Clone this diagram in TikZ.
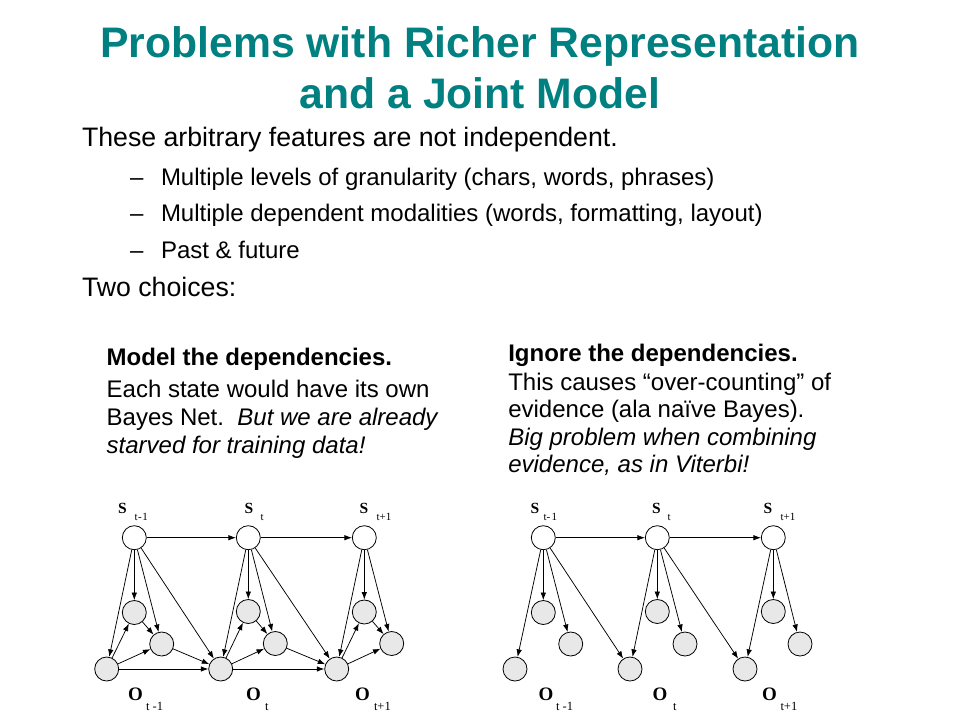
\documentclass[tikz,border=0pt]{standalone}
\usepackage{fontspec}
\setmainfont{Liberation Sans}
\newfontfamily\timesf{Liberation Serif}
\usetikzlibrary{arrows.meta}
\definecolor{titleteal}{RGB}{0,128,128}
\definecolor{obsgray}{RGB}{232,232,232}
\begin{document}
\begin{tikzpicture}[x=1pt,y=-1pt,
  txt/.style={anchor=base west, inner sep=0pt, outer sep=0pt},
  ttl/.style={anchor=base, inner sep=0pt, text=titleteal, font={\fontsize{42.7}{50}\selectfont\bfseries}},
  main/.style={txt, font={\fontsize{26.7}{32}\selectfont}},
  sub/.style={txt, font={\fontsize{24}{28}\selectfont}},
  box/.style={txt, font={\fontsize{24}{28}\selectfont}},
  st/.style={circle, draw=black, line width=0.8pt, fill=white, minimum size=24pt, inner sep=0pt},
  ob/.style={st, fill=obsgray},
  arr/.style={-{Latex[length=7.5pt,width=5.5pt]}, line width=0.75pt},
  slab/.style={txt, font={\timesf\bfseries\fontsize{15.5}{16}\selectfont}},
  ssub/.style={txt, font={\timesf\fontsize{11}{12}\selectfont}},
  olab/.style={txt, font={\timesf\bfseries\fontsize{19}{20}\selectfont}},
  osub/.style={txt, font={\timesf\fontsize{12.5}{13}\selectfont}}
]
\useasboundingbox[fill=white] (0,0) rectangle (960,720);

% ---------- title ----------
\node[ttl] (title1) at (480,57.7) {Problems with Richer Representation};
\node[ttl] (title2) at (480,108.3) {and a Joint Model};

% ---------- bullets ----------
\node[main] (l1) at (82,146.7) {These arbitrary features are not independent.};
\node[sub] (d1) at (130,185) {–};
\node[sub] (b1) at (161,185) {Multiple levels of granularity (chars, words, phrases)};
\node[sub] (d2) at (130,221.7) {–};
\node[sub] (b2) at (161,221.7) {Multiple dependent modalities (words, formatting, layout)};
\node[sub] (d3) at (130,258.3) {–};
\node[sub] (b3) at (161,258.3) {Past \& future};
\node[main] (l2) at (82,296.7) {Two choices:};

% ---------- left text box ----------
\node[box] (m1) at (106.7,365.7) {\bfseries Model the dependencies.};
\node[box] (m2) at (106.7,397.2) {Each state would have its own};
\node[box] (m3) at (106.7,425.5) {Bayes Net.\ \ \itshape But we are already};
\node[box] (m4) at (106.7,453.3) {\itshape starved for training data!};

% ---------- right text box ----------
\node[box] (r1) at (508.3,361.7) {\bfseries Ignore the dependencies.};
\node[box] (r2) at (508.3,390) {This causes “over-counting” of};
\node[box] (r3) at (508.3,417.7) {evidence (ala naïve Bayes).};
\node[box] (r4) at (508.3,445) {\itshape Big problem when combining};
\node[box] (r5) at (508.3,472.3) {\itshape evidence, as in Viterbi!};

% ---------- left network ----------
\node[st] (LS1) at (134.3,537.7) {};
\node[st] (LS2) at (248.3,537.7) {};
\node[st] (LS3) at (364.3,537.7) {};
\node[ob] (LA1) at (134.3,612.5) {};
\node[ob] (LA2) at (248.3,611.5) {};
\node[ob] (LA3) at (364.3,612) {};
\node[ob] (LB1) at (161.7,644) {};
\node[ob] (LB2) at (275.3,643.5) {};
\node[ob] (LB3) at (391.7,643.5) {};
\node[ob] (LC1) at (106.7,669) {};
\node[ob] (LC2) at (220.7,669) {};
\node[ob] (LC3) at (336.7,669) {};

\draw[arr] (LS1) -- (LS2);
\draw[arr] (LS2) -- (LS3);
\foreach \i in {1,2,3}{
  \draw[arr] (LS\i) -- (LA\i);
  \draw[arr] (LS\i) -- (LB\i);
  \draw[arr] (LS\i) -- (LC\i);
  \draw[arr] (LC\i) -- (LA\i);
  \draw[arr] (LC\i) -- (LB\i);
  \draw[arr] (LA\i) -- (LB\i);
}
\draw[arr] (LS1) -- (LC2);
\draw[arr] (LS2) -- (LC3);
\draw[arr] (LB1) -- (LC2);
\draw[arr] (LB2) -- (LC3);
\draw[arr] (LC1) -- (LC2);
\draw[arr] (LC2) -- (LC3);

\node[slab] (lsS1) at (118,513) {S};
\node[ssub] (lsS1s) at (134.5,520) {t\kern0.6pt-\kern0.6pt1};
\node[slab] (lsS2) at (244.5,513) {S};
\node[ssub] (lsS2s) at (260.5,520) {t};
\node[slab] (lsS3) at (359.5,513) {S};
\node[ssub] (lsS3s) at (376.5,520) {t+1};
\node[olab] (loO1) at (128,700) {O};
\node[osub] (loO1s) at (146,710.5) {t -1};
\node[olab] (loO2) at (246,700) {O};
\node[osub] (loO2s) at (265,710.5) {t};
\node[olab] (loO3) at (355,700) {O};
\node[osub] (loO3s) at (374,710.5) {t+1};

% ---------- right network ----------
\node[st] (RS1) at (543.3,537.7) {};
\node[st] (RS2) at (657.3,537.7) {};
\node[st] (RS3) at (773.3,537.7) {};
\node[ob] (RA1) at (543.3,612.5) {};
\node[ob] (RA2) at (657.3,611.5) {};
\node[ob] (RA3) at (773.3,611.5) {};
\node[ob] (RB1) at (570.7,644) {};
\node[ob] (RB2) at (685,644) {};
\node[ob] (RB3) at (800,644) {};
\node[ob] (RC1) at (515,669) {};
\node[ob] (RC2) at (630,669) {};
\node[ob] (RC3) at (745,669) {};

\draw[arr] (RS1) -- (RS2);
\draw[arr] (RS2) -- (RS3);
\foreach \i in {1,2,3}{
  \draw[arr] (RS\i) -- (RA\i);
  \draw[arr] (RS\i) -- (RB\i);
  \draw[arr] (RS\i) -- (RC\i);
}
\draw[arr] (RS1) -- (RC2);
\draw[arr] (RS2) -- (RC3);

\node[slab] (rsS1) at (530.5,513) {S};
\node[ssub] (rsS1s) at (543.5,520) {t-\kern1.5pt1};
\node[slab] (rsS2) at (652,513) {S};
\node[ssub] (rsS2s) at (667.5,520) {t};
\node[slab] (rsS3) at (763.5,513) {S};
\node[ssub] (rsS3s) at (780.5,520) {t+1};
\node[olab] (roO1) at (538.5,700) {O};
\node[osub] (roO1s) at (556,710.5) {t -1};
\node[olab] (roO2) at (652.5,700) {O};
\node[osub] (roO2s) at (673,710.5) {t};
\node[olab] (roO3) at (762,700) {O};
\node[osub] (roO3s) at (780.5,710.5) {t+1};
\end{tikzpicture}
\end{document}
